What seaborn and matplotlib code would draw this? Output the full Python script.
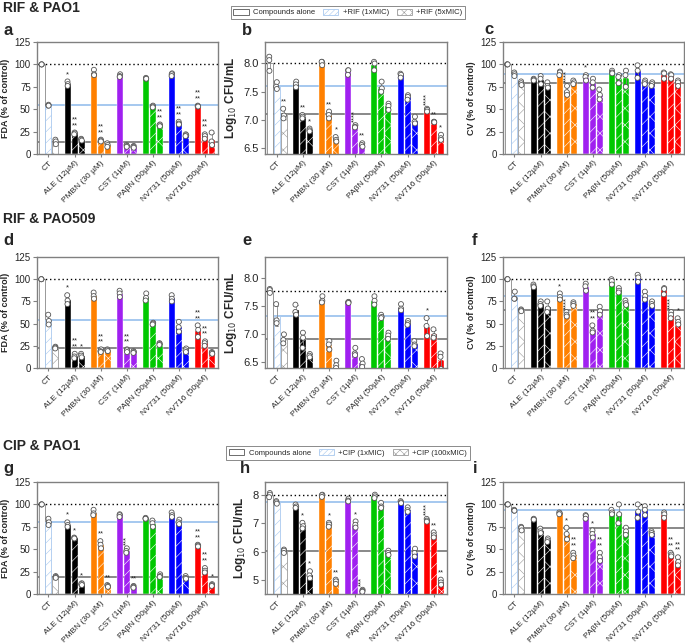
import numpy as np
import pandas as pd
import seaborn as sns
import matplotlib.pyplot as plt
from matplotlib.patches import Patch

groups = ["CT", "ALE (12µM)", "PMBN (30 µM)", "CST (1µM)", "PAβN (50µM)",
          "NV731 (50µM)", "NV716 (50µM)"]
group_colors = ["white", "black", "#ff8000", "#a020f0", "#00c800", "#0000ff", "#ff0000"]
levels = ["alone", "low", "high"]

# ---- RIF & PAO1 ----
a_alone = [[100, 100, 100], [81, 78, 76], [94, 89, 88], [89, 87, 86], [85, 84, 84], [90, 89, 87], [54, 53, 53]]
a_low = [[55, 54, 54], [24, 23, 22], [16, 15, 14], [10, 9, 8], [54, 53, 52], [36, 34, 33], [22, 20, 17]]
a_high = [[16, 14, 11], [17, 16, 15], [12, 10, 8], [9, 8, 7], [33, 32, 31], [22, 21, 20], [24, 14, 10]]
a_stars = [["", "*", "", "", "", "", "**\n**"],
           ["", "**\n**", "**\n**", "", "", "**\n**", "**\n**"],
           ["", "", "", "", "**\n**", "", ""]]

b_alone = [[8.12, 8.06, 7.87], [7.68, 7.63, 7.58], [8.03, 8.03, 7.97], [7.88, 7.88, 7.8], [8.03, 8.0, 7.88], [7.82, 7.8, 7.75], [7.2, 7.18, 7.15]]
b_low = [[7.67, 7.59, 7.55], [7.09, 7.06, 7.03], [7.15, 7.09, 7.03], [6.91, 6.88, 6.87], [7.68, 7.56, 7.5], [7.44, 7.41, 7.36], [6.97, 6.97, 6.96]]
b_high = [[7.2, 7.08, 7.03], [6.85, 6.82, 6.8], [6.7, 6.65, 6.62], [6.59, 6.56, 6.53], [7.29, 7.25, 7.18], [7.06, 6.97, 6.94], [6.74, 6.68, 6.65]]
b_stars = [["", "", "", "", "", "", "****"],
           ["", "**", "**", "****", "", "", "**"],
           ["**", "*", "*", "**", "", "", "*"]]

c_alone = [[100, 100, 100], [84, 83, 82], [92, 91, 88], [88, 86, 82], [93, 91, 90], [99, 93, 85], [91, 90, 84]]
c_low = [[91, 89, 87], [87, 84, 78], [76, 69, 66], [84, 80, 74], [88, 86, 79], [82, 80, 78], [89, 88, 84]]
c_high = [[81, 79, 77], [80, 76, 74], [82, 80, 78], [72, 66, 61], [93, 88, 75], [80, 78, 76], [82, 80, 76]]
c_stars = [["", "", "", "*", "", "", ""],
           ["", "", "****", "", "", "", ""],
           ["", "", "", "", "", "", ""]]

# ---- RIF & PAO509 ----
d_alone = [[100, 100, 100], [82, 76, 72], [85, 81, 78], [87, 84, 80], [84, 79, 76], [82, 78, 75], [48, 43, 35]]
d_low = [[60, 53, 49], [16, 13, 11], [21, 19, 18], [21, 20, 18], [51, 50, 49], [52, 46, 41], [30, 28, 25]]
d_high = [[24, 23, 22], [16, 14, 12], [21, 20, 19], [19, 18, 17], [28, 27, 26], [22, 20, 18], [18, 17, 16]]
d_stars = [["", "*", "", "", "", "", "**\n**"],
           ["", "**\n**", "**\n**", "**\n**", "", "", "**\n**"],
           ["", "*", "", "", "", "", ""]]

e_alone = [[7.81, 7.79, 7.74], [7.53, 7.4, 7.35], [7.68, 7.6, 7.57], [7.58, 7.57, 7.56], [7.68, 7.6, 7.53], [7.54, 7.46, 7.43], [7.29, 7.15, 6.97]]
e_low = [[7.54, 7.25, 7.2], [7.03, 6.94, 6.76], [6.88, 6.82, 6.73], [6.76, 6.66, 6.63], [7.35, 7.31, 7.29], [7.24, 7.2, 7.17], [7.09, 6.97, 6.94]]
e_high = [[7.0, 6.9, 6.84], [6.65, 6.62, 6.59], [6.53, 6.45, 6.4], [6.56, 6.48, 6.42], [7.03, 6.98, 6.92], [6.88, 6.82, 6.79], [6.66, 6.6, 6.38]]
e_stars = [["", "", "", "", "", "", "*"],
           ["", "", "", "", "", "", ""],
           ["", "", "", "", "", "", ""]]

f_alone = [[100, 100, 100], [94, 92, 91], [84, 80, 77], [95, 92, 87], [100, 98, 94], [105, 102, 97], [90, 89, 83]]
f_low = [[86, 78, 78], [75, 72, 70], [63, 60, 58], [48, 42, 40], [90, 87, 85], [86, 81, 77], [63, 60, 56]]
f_high = [[66, 65, 64], [75, 67, 63], [74, 72, 70], [69, 64, 60], [76, 73, 71], [75, 72, 70], [56, 52, 49]]
f_stars = [["", "", "*", "", "", "", ""],
           ["", "", "****", "**\n**", "", "", "****"],
           ["", "", "", "", "", "", "*"]]

# ---- CIP & PAO1 ----
g_alone = [[100, 100, 100], [80, 77, 75], [94, 90, 88], [89, 88, 86], [85, 84, 84], [91, 88, 86], [55, 54, 53]]
g_low = [[84, 80, 77], [63, 62, 62], [59, 55, 51], [51, 48, 46], [82, 79, 75], [83, 80, 78], [29, 26, 24]]
g_high = [[20, 19, 18], [12, 11, 10], [10, 9, 8], [9, 8, 7], [22, 20, 19], [20, 18, 17], [11, 10, 9]]
g_stars = [["", "*", "", "", "", "", "**\n**"],
           ["", "*", "**", "***", "", "", "**\n**"],
           ["", "*", "**", "**", "", "", "*"]]

h_alone = [[8.08, 8.02, 7.93], [7.67, 7.6, 7.55], [8.02, 8.0, 7.94], [7.88, 7.81, 7.78], [8.02, 7.96, 7.9], [7.79, 7.75, 7.72], [7.16, 7.1, 7.06]]
h_low = [[7.79, 7.75, 7.7], [7.02, 6.9, 6.82], [7.02, 6.96, 6.88], [7.07, 6.95, 6.85], [7.73, 7.6, 7.55], [7.57, 7.47, 7.41], [6.68, 6.58, 6.5]]
h_high = [[6.07, 6.03, 5.95], [5.3, 5.15, 5.05], [5.0, 4.94, 4.85], [4.64, 4.6, 4.57], [6.03, 5.95, 5.88], [6.1, 5.95, 5.82], [5.0, 4.9, 4.82]]
h_stars = [["", "", "", "", "", "", "****"],
           ["", "*", "*", "*", "", "", "**"],
           ["", "*", "**", "***", "", "", "**"]]

i_alone = [[100, 100, 100], [84, 83, 83], [91, 90, 89], [88, 87, 84], [94, 91, 89], [100, 92, 85], [91, 89, 85]]
i_low = [[94, 93, 93], [73, 70, 68], [74, 67, 61], [71, 67, 63], [100, 89, 79], [98, 94, 88], [46, 44, 42]]
i_high = [[75, 74, 71], [62, 60, 58], [46, 43, 40], [46, 41, 37], [74, 70, 66], [70, 68, 66], [41, 36, 32]]
i_stars = [["", "", "", "", "", "", ""],
           ["", "", "*", "*", "", "", "**\n**"],
           ["", "", "**\n**", "**\n**", "", "", "**\n**"]]

W, H = 685, 643
sns.set_theme(style="white")
plt.rcParams["font.family"] = ["Liberation Sans", "DejaVu Sans"]
plt.rcParams["hatch.linewidth"] = 0.4
np.random.seed(0)

fig = plt.figure(figsize=(W / 100, H / 100), dpi=100)


def px_axes(x0, y0, x1, y1):
    return fig.add_axes([x0 / W, 1 - y1 / H, (x1 - x0) / W, (y1 - y0) / H])


def panel(ax, alone, low, high, stars, ylim, yticks, ylabel, ylabsize, ticksize):
    rows = []
    for lvl, vals in zip(levels, [alone, low, high]):
        for g, reps in zip(groups, vals):
            for v in reps:
                rows.append((g, lvl, v))
    df = pd.DataFrame(rows, columns=["group", "level", "value"])

    # reference lines at the CT means
    ax.axhline(np.mean(alone[0]), color="black", ls=(0, (1, 2)), lw=1, zorder=0.5)
    ax.axhline(np.mean(low[0]), color="#9ec4ee", lw=1.3, zorder=0.5)
    ax.axhline(np.mean(high[0]), color="#7f7f7f", lw=1.3, zorder=0.5)

    sns.barplot(data=df, x="group", y="value", hue="level", order=groups,
                hue_order=levels, errorbar="sd", width=0.8, gap=0.14,
                capsize=0.4, err_kws={"linewidth": 0.6, "color": "#888", "zorder": 3},
                legend=False, ax=ax, zorder=2)

    for h, cont in enumerate(ax.containers):
        for g, bar in enumerate(cont):
            col = group_colors[g]
            if g == 0:
                bar.set_facecolor("white")
                bar.set_edgecolor(["#888888", "#a9c9ef", "#9a9a9a"][h])
                bar.set_linewidth(0.6)
            else:
                bar.set_facecolor(col)
                bar.set_edgecolor("white")
                bar.set_linewidth(0.3)
            bar.set_hatch(["", "///", "xx"][h])

    sns.stripplot(data=df, x="group", y="value", hue="level", order=groups,
                  hue_order=levels, dodge=True, jitter=0.05,
                  palette=["white"] * 3, edgecolor="#555555", linewidth=0.6,
                  size=3.6, legend=False, ax=ax, zorder=4)

    for h, cont in enumerate(ax.containers):
        vals = [alone, low, high][h]
        for g, bar in enumerate(cont):
            txt = stars[h][g]
            if not txt:
                continue
            x = bar.get_x() + bar.get_width() / 2
            vertical = "\n" not in txt and len(txt) >= 3
            ax.annotate(txt, (x, max(vals[g])), xytext=(0, 2.5),
                        textcoords="offset points", ha="center", va="bottom",
                        fontsize=5.5, linespacing=0.75,
                        rotation=90 if vertical else 0, zorder=5)

    ax.set_xlim(-0.44, 6.5)
    ax.set_ylim(*ylim)
    ax.set_yticks(yticks)
    ax.set_xlabel("")
    ax.set_ylabel(ylabel, fontsize=ylabsize, fontweight="bold", labelpad=3)
    ax.set_xticks(range(len(groups)))
    ax.set_xticklabels(groups, rotation=45, ha="right", rotation_mode="anchor",
                       fontsize=6)
    ax.tick_params(axis="y", left=True, length=3, width=0.8, color="#808080",
                   labelsize=ticksize, pad=1.5)
    ax.tick_params(axis="x", bottom=True, length=2, width=0.8, color="#808080",
                   pad=2)
    for sp in ax.spines.values():
        sp.set_color("#808080")
        sp.set_linewidth(1)


pct_ticks = [0, 25, 50, 75, 100, 125]
fda_lab = "FDA (% of control)"
cv_lab = "CV (% of control)"
log_lab = "Log$_{10}$ CFU/mL"

rows_px = [(42, 154), (257, 368), (482, 594)]
cols_px = [(37, 218), (265, 447), (503, 684)]

panels = [
    (a_alone, a_low, a_high, a_stars, (0, 125), pct_ticks, fda_lab, 6.5, 7),
    (b_alone, b_low, b_high, b_stars, (6.4, 8.38), [6.5, 7.0, 7.5, 8.0], log_lab, 8.5, 8),
    (c_alone, c_low, c_high, c_stars, (0, 125), pct_ticks, cv_lab, 6.5, 7),
    (d_alone, d_low, d_high, d_stars, (0, 125), pct_ticks, fda_lab, 6.5, 7),
    (e_alone, e_low, e_high, e_stars, (6.4, 8.38), [6.5, 7.0, 7.5, 8.0], log_lab, 8.5, 8),
    (f_alone, f_low, f_high, f_stars, (0, 125), pct_ticks, cv_lab, 6.5, 7),
    (g_alone, g_low, g_high, g_stars, (0, 125), pct_ticks, fda_lab, 6.5, 7),
    (h_alone, h_low, h_high, h_stars, (4.49, 8.47), [5, 6, 7, 8], log_lab, 8.5, 8),
    (i_alone, i_low, i_high, i_stars, (0, 125), pct_ticks, cv_lab, 6.5, 7),
]

letters = "abcdefghi"
letter_px = [(3, 35), (242, 35), (484, 34), (3, 245), (242, 245), (472, 245),
             (3, 473), (240, 473), (473, 473)]

for k, p in enumerate(panels):
    r, c = divmod(k, 3)
    ax = px_axes(cols_px[c][0], rows_px[r][0], cols_px[c][1], rows_px[r][1])
    panel(ax, *p)
    lx, ly = letter_px[k]
    fig.text(lx / W, 1 - ly / H, letters[k], fontsize=12, fontweight="bold",
             va="baseline", ha="left")

for txt, y in [("RIF & PAO1", 12), ("RIF & PAO509", 223), ("CIP & PAO1", 450)]:
    fig.text(3 / W, 1 - y / H, txt, fontsize=10, fontweight="bold", va="baseline")


def add_legend(drug, hi_label, ycen):
    handles = [Patch(facecolor="white", edgecolor="#555555", lw=0.6),
               Patch(facecolor="white", edgecolor="#a9c9ef", hatch="//////", lw=0.6),
               Patch(facecolor="white", edgecolor="#9a9a9a", hatch="xxxx", lw=0.6)]
    labels = ["Compounds alone", f"+{drug} (1xMIC)", f"+{drug} ({hi_label})"]
    leg = fig.legend(handles, labels, ncol=3, loc="center",
                     bbox_to_anchor=(348 / W, 1 - ycen / H), fontsize=5.5,
                     frameon=True, fancybox=False, edgecolor="#555555",
                     handlelength=2.0, handleheight=0.9, columnspacing=1.0,
                     handletextpad=0.6, borderpad=0.35)
    leg.get_frame().set_linewidth(0.6)


add_legend("RIF", "5xMIC", 12.5)
add_legend("CIP", "100xMIC", 453)

fig.savefig("out.png", dpi=100)
